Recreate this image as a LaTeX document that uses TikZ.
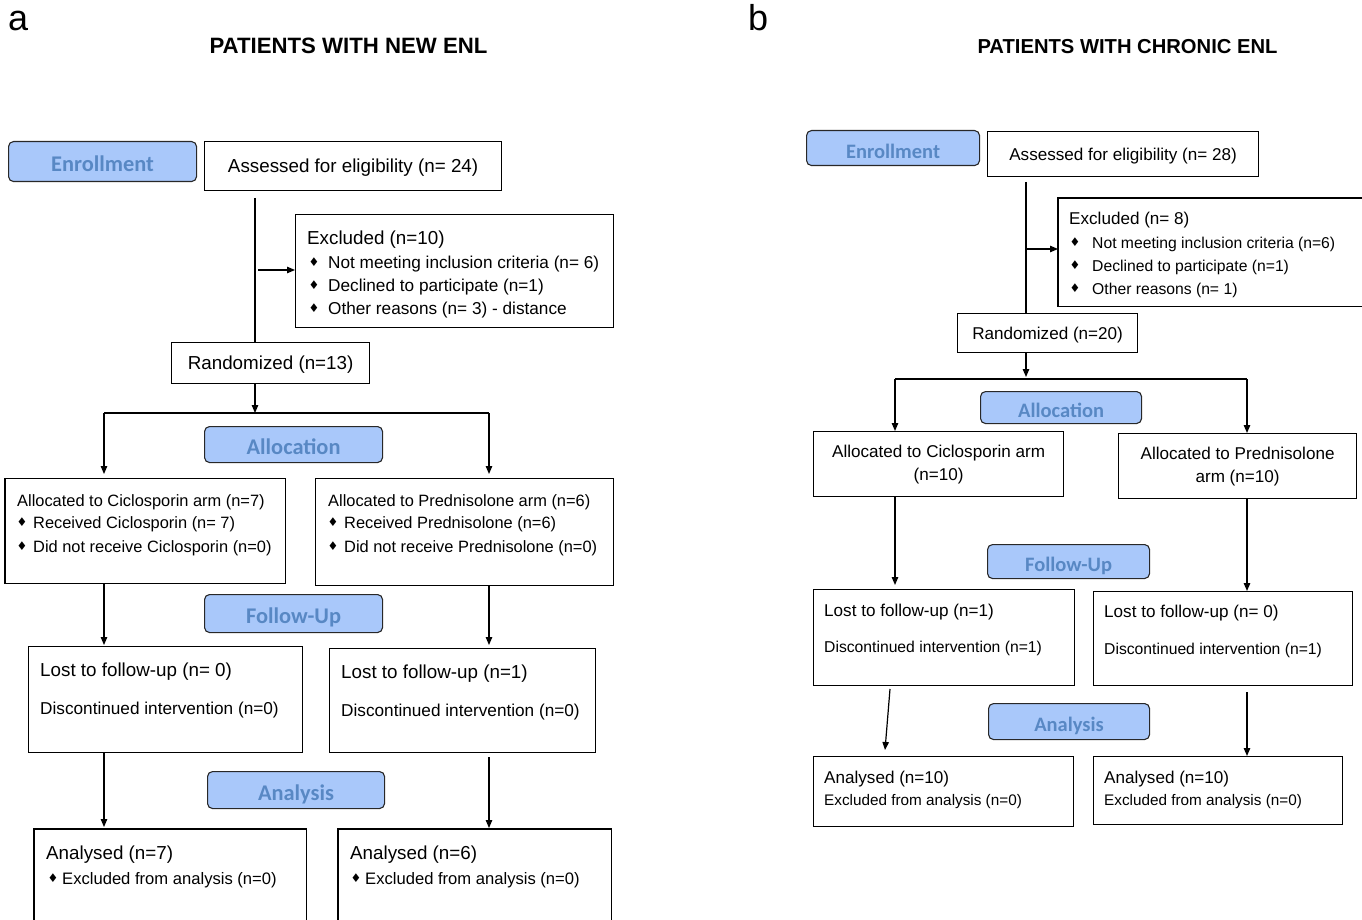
\documentclass[tikz,border=0pt]{standalone}
\usepackage{fontspec}
\setmainfont{Liberation Sans}
\newfontfamily\hdrfont{Carlito}
\newfontfamily\symfont{DejaVu Sans}
\usetikzlibrary{arrows.meta}
\newcommand{\setfs}[1]{\fontsize{#1}{#1}\selectfont}
\definecolor{hdrfill}{RGB}{169,200,250}
\definecolor{hdrtext}{RGB}{88,136,196}
\definecolor{hdrline}{RGB}{40,40,40}
\tikzset{
  box/.style={draw=black, line width=1.2pt, anchor=north west, inner sep=0pt},
  openbox/.style={anchor=north west, inner sep=0pt},
  hdr/.style={draw=hdrline, fill=hdrfill, rounded corners=5pt, line width=1.1pt,
    anchor=north west, inner sep=0pt, text=hdrtext,
    text height=0.644em+14pt, text depth=0pt},
  hdra/.style={hdr, font=\hdrfont\bfseries\setfs{22.4}},
  hdrb/.style={hdr, font=\hdrfont\bfseries\setfs{20.5}},
  lbl/.style={anchor=base west, inner sep=0pt},
  one/.style={text height=0.716em+5pt, text depth=0pt},
  bul/.style={anchor=center, inner sep=0pt, font=\symfont\setfs{12}},
  fa/.style={font=\setfs{18.8}},
  fas/.style={font=\setfs{17.2}},
  fal/.style={font=\setfs{16.4}},
  fb/.style={font=\setfs{17.1}},
  fbtwo/.style={font=\fontsize{17.1}{23}\selectfont},
  fbs/.style={font=\setfs{15.7}},
  conn/.style={line width=1.2pt, -{Triangle[length=8pt,width=6.5pt]}},
  plain/.style={line width=1.2pt},
}
\begin{document}
\begin{tikzpicture}[x=1pt,y=-1pt]
\useasboundingbox (0,0) rectangle (1362,920);

% ---------- panel labels and titles ----------
\node[lbl, font=\setfs{36}] (pa) at (8,31) {a};
\node[lbl, font=\setfs{36}] (pb) at (748,31) {b};
\node[anchor=base, inner sep=0pt, font=\bfseries\setfs{22.2}] (titA) at (348.5,54) {PATIENTS WITH NEW ENL};
\node[anchor=base, inner sep=0pt, font=\bfseries\setfs{20.2}] (titB) at (1127.5,54) {PATIENTS WITH CHRONIC ENL};

% =================== PANEL A ===================
\node[hdra, minimum width=188, minimum height=40] (enrA) at (8,141) {Enrollment};
\node[box, fa, one, minimum width=297, minimum height=49] (asA) at (204,141) {Assessed for eligibility (n= 24)};

\node[box, minimum width=318, minimum height=113] (exA) at (295,214) {};
\node[lbl, fa] (exA0) at (307,244) {Excluded (n=10)};
\node[bul] (exAb1) at (314,262.5) {♦};
\node[lbl, fas] (exA1) at (328,268) {Not meeting inclusion criteria (n= 6)};
\node[bul] (exAb2) at (314,285.5) {♦};
\node[lbl, fas] (exA2) at (328,291) {Declined to participate (n=1)};
\node[bul] (exAb3) at (314,308.5) {♦};
\node[lbl, fas] (exA3) at (328,314) {Other reasons (n= 3) - distance};

\node[box, fa, one, minimum width=198, minimum height=41] (randA) at (171,342) {Randomized (n=13)};

\coordinate (asAbot) at (255,198);
\coordinate (exAsrc) at (258,270);
\coordinate (splitA) at (255,413);
\coordinate (laneA1) at (104,413);
\coordinate (laneA2) at (489,413);

\draw[plain] (asAbot) -- (asAbot |- randA.north);
\draw[conn] (exAsrc) -- (exAsrc -| exA.west);
\draw[conn] (asAbot |- randA.south) -- (splitA);
\draw[plain] (laneA1) -- (laneA2);

\node[hdra, minimum width=178, minimum height=36] (alHdrA) at (204,426) {Allocation};

\node[box, minimum width=280, minimum height=105] (allocA1) at (5,478) {};
\draw[line width=2.6pt] (allocA1.north west) -- (allocA1.south west);
\node[lbl, fal] (alA10) at (17,506) {Allocated to Ciclosporin arm (n=7)};
\node[bul] (alA1b1) at (22,522.5) {♦};
\node[lbl, fal] (alA11) at (33,528) {Received Ciclosporin (n= 7)};
\node[bul] (alA1b2) at (22,546.5) {♦};
\node[lbl, fal] (alA12) at (33,552) {Did not receive Ciclosporin (n=0)};

\node[box, minimum width=298, minimum height=107] (allocA2) at (315,478) {};
\node[lbl, fal] (alA20) at (328,506) {Allocated to Prednisolone arm (n=6)};
\node[bul] (alA2b1) at (333,522.5) {♦};
\node[lbl, fal] (alA21) at (344,528) {Received Prednisolone (n=6)};
\node[bul] (alA2b2) at (333,546.5) {♦};
\node[lbl, fal] (alA22) at (344,552) {Did not receive Prednisolone (n=0)};

\draw[conn, shorten >=4pt] (laneA1) -- (laneA1 |- allocA1.north);
\draw[conn, shorten >=4pt] (laneA2) -- (laneA2 |- allocA2.north);

\node[hdra, minimum width=178, minimum height=38] (fuHdrA) at (204,594) {Follow-Up};

\node[box, minimum width=274, minimum height=106] (lostA1) at (28,646) {};
\node[lbl, fa] (loA10) at (40,676) {Lost to follow-up (n= 0)};
\node[lbl, fas] (loA11) at (40,714) {Discontinued intervention (n=0)};

\node[box, minimum width=266, minimum height=104] (lostA2) at (329,648) {};
\node[lbl, fa] (loA20) at (341,678) {Lost to follow-up (n=1)};
\node[lbl, fas] (loA21) at (341,716) {Discontinued intervention (n=0)};

\draw[conn, shorten >=1pt] (laneA1 |- allocA1.south) -- (laneA1 |- lostA1.north);
\draw[conn, shorten >=3pt] (laneA2 |- allocA2.south) -- (laneA2 |- lostA2.north);

\node[hdra, minimum width=177, minimum height=37] (anHdrA) at (207,771) {Analysis};

\node[openbox, minimum width=272, minimum height=92] (analA1) at (34,829) {};
\draw[plain] (analA1.south west) -- (analA1.north west) -- (analA1.north east) -- (analA1.south east);
\node[lbl, fa] (anA10) at (46,859) {Analysed (n=7)};
\node[bul] (anA1b) at (53,878.5) {♦};
\node[lbl, font=\setfs{16.6}] (anA11) at (62,884) {Excluded from analysis (n=0)};

\node[openbox, minimum width=273, minimum height=92] (analA2) at (338,829) {};
\draw[plain] (analA2.south west) -- (analA2.north west) -- (analA2.north east) -- (analA2.south east);
\node[lbl, fa] (anA20) at (350,859) {Analysed (n=6)};
\node[bul] (anA2b) at (356,878.5) {♦};
\node[lbl, font=\setfs{16.6}] (anA21) at (365,884) {Excluded from analysis (n=0)};

\coordinate (loA2bot) at (489,757);
\draw[conn, shorten >=2pt] (laneA1 |- lostA1.south) -- (laneA1 |- analA1.north);
\draw[conn, shorten >=1pt] (loA2bot) -- (loA2bot |- analA2.north);

% =================== PANEL B ===================
\node[hdrb, minimum width=173, minimum height=35] (enrB) at (806,130) {Enrollment};
\node[box, fb, one, minimum width=271, minimum height=45] (asB) at (987,131) {Assessed for eligibility (n= 28)};

\node[openbox, minimum width=305, minimum height=108] (exB) at (1058,198) {};
\draw[plain] (exB.north east) -- (exB.north west) -- (exB.south west) -- (exB.south east);
\node[lbl, fb] (exB0) at (1069,225) {Excluded (n= 8)};
\node[bul] (exBb1) at (1075,242.5) {♦};
\node[lbl, fbs] (exB1) at (1092,248) {Not meeting inclusion criteria (n=6)};
\node[bul] (exBb2) at (1075,265.5) {♦};
\node[lbl, fbs] (exB2) at (1092,271) {Declined to participate (n=1)};
\node[bul] (exBb3) at (1075,288.5) {♦};
\node[lbl, fbs] (exB3) at (1092,294) {Other reasons (n= 1)};

\node[box, fb, one, minimum width=180, minimum height=39] (randB) at (957,313) {Randomized (n=20)};

\coordinate (asBbot) at (1026,182);
\coordinate (exBsrc) at (1026,249);
\coordinate (splitB) at (1026,379);
\coordinate (laneB1) at (895,379);
\coordinate (laneB2) at (1247,379);

\draw[plain] (asBbot) -- (asBbot |- randB.north);
\draw[conn] (exBsrc) -- (exBsrc -| exB.west);
\draw[conn, shorten >=2pt] (asBbot |- randB.south) -- (splitB);
\draw[plain] (laneB1) -- (laneB2);

\node[hdrb, minimum width=161, minimum height=32] (alHdrB) at (980,391) {Allocation};

\node[box, fbtwo, minimum width=250, minimum height=65, align=center] (allocB1) at (813,431) {Allocated to Ciclosporin arm\\(n=10)};
\node[box, fbtwo, minimum width=238, minimum height=65, align=center] (allocB2) at (1118,433) {Allocated to Prednisolone\\arm (n=10)};

\draw[conn] (laneB1) -- (laneB1 |- allocB1.north);
\draw[conn] (laneB2) -- (laneB2 |- allocB2.north);

\node[hdrb, minimum width=162, minimum height=34] (fuHdrB) at (987,544) {Follow-Up};

\node[box, minimum width=261, minimum height=96] (lostB1) at (813,589) {};
\node[lbl, fb] (loB10) at (824,616) {Lost to follow-up (n=1)};
\node[lbl, fbs] (loB11) at (824,652) {Discontinued intervention (n=1)};

\node[box, minimum width=259, minimum height=94] (lostB2) at (1093,591) {};
\node[lbl, fb] (loB20) at (1104,617) {Lost to follow-up (n= 0)};
\node[lbl, fbs] (loB21) at (1104,654) {Discontinued intervention (n=1)};

\draw[conn, shorten >=4pt] (laneB1 |- allocB1.south) -- (laneB1 |- lostB1.north);
\draw[conn] (laneB2 |- allocB2.south) -- (laneB2 |- lostB2.north);

\node[hdrb, minimum width=161, minimum height=36] (anHdrB) at (988,703) {Analysis};

\node[box, minimum width=260, minimum height=70] (analB1) at (813,756) {};
\node[lbl, fb] (anB10) at (824,783) {Analysed (n=10)};
\node[lbl, font=\setfs{15.3}] (anB11) at (824,805) {Excluded from analysis (n=0)};

\node[box, minimum width=249, minimum height=68] (analB2) at (1093,756) {};
\node[lbl, fb] (anB20) at (1104,783) {Analysed (n=10)};
\node[lbl, font=\setfs{15.3}] (anB21) at (1104,805) {Excluded from analysis (n=0)};

\coordinate (slB1a) at (890,689);
\coordinate (slB1b) at (885,750);
\coordinate (loB2bot) at (1247,692);
\draw[conn] (slB1a) -- (slB1b);
\draw[conn] (loB2bot) -- (loB2bot |- analB2.north);
\end{tikzpicture}
\end{document}
